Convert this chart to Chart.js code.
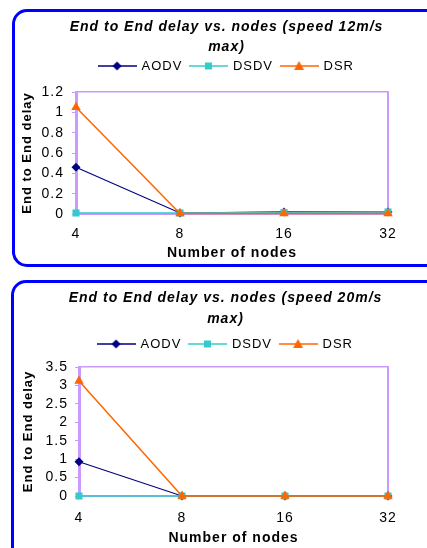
<!DOCTYPE html>
<html>
<head>
<meta charset="utf-8">
<script src="https://cdn.jsdelivr.net/npm/chart.js@4"></script>
<style>
  body { margin: 0; background: #fff; width: 427px; height: 548px; overflow: hidden; position: relative; }
  .box { position: absolute; border: 3px solid #0000ff; border-radius: 15px; box-sizing: border-box; }
  canvas { position: absolute; }
</style>
</head>
<body>
<div class="box" style="left:12px; top:9px; width:440px; height:258px;"></div>
<div class="box" style="left:11px; top:280px; width:440px; height:300px;"></div>
<canvas id="c12" width="427" height="258" style="left:13px; top:10px;"></canvas>
<canvas id="c20" width="427" height="278" style="left:12px; top:270px;"></canvas>
<script>
const nodes = ['4', '8', '16', '32'];

const aodv12 = [0.46, 0.01, 0.02, 0.02];
const dsdv12 = [0.01, 0.01, 0.015, 0.02];
const dsr12 = [1.05, 0.005, 0.005, 0.005];
const yTicks12 = ['0', '0.2', '0.4', '0.6', '0.8', '1', '1.2'];

const aodv20 = [0.93, 0, 0, 0];
const dsdv20 = [0, 0, 0, 0];
const dsr20 = [3.12, 0, 0, 0];
const yTicks20 = ['0', '0.5', '1', '1.5', '2', '2.5', '3', '3.5'];

const purple = '#cc99ff';
const font = 'Liberation Sans, Arial, sans-serif';
Chart.defaults.color = '#000';
Chart.defaults.font.family = font;

const spacing = {
    id: 'spacing',
    beforeLayout(c) { c.ctx.letterSpacing = '1px'; },
    beforeDraw(c) { c.ctx.letterSpacing = '1px'; }
};

// little line + marker picture for the legend
function legendIcon(color, style) {
    const cv = document.createElement('canvas');
    cv.width = 39; cv.height = 12;
    const g = cv.getContext('2d');
    g.strokeStyle = color; g.fillStyle = color; g.lineWidth = 1.5;
    g.beginPath(); g.moveTo(0, 6); g.lineTo(39, 6); g.stroke();
    g.beginPath();
    if (style === 'rectRot') {
        g.moveTo(19.5, 1.5); g.lineTo(24, 6); g.lineTo(19.5, 10.5); g.lineTo(15, 6);
    } else if (style === 'rect') {
        g.rect(16, 2.5, 7, 7);
    } else {
        g.moveTo(19.5, 1); g.lineTo(24.5, 10); g.lineTo(14.5, 10);
    }
    g.closePath(); g.fill();
    return cv;
}

function series(label, data, color, style, radius, width, order) {
    return {
        label, data, order,
        borderColor: color, backgroundColor: color,
        borderWidth: width,
        pointStyle: style, pointRadius: radius, pointHoverRadius: radius,
        pointBorderWidth: 0,
        tension: 0, clip: false
    };
}

function makeChart(id, title, sets, yMax, yStep, yTicks, lay) {
    new Chart(document.getElementById(id), {
        type: 'line',
        data: { labels: nodes, datasets: sets },
        plugins: [spacing],
        options: {
            responsive: false,
            animation: false,
            events: [],
            layout: { padding: 0 },
            plugins: {
                title: {
                    display: true,
                    text: title,
                    font: { size: 14, weight: 'bold', style: 'italic', lineHeight: lay.titleLH + 'px' },
                    padding: { top: lay.titleTop, bottom: lay.titleBottom }
                },
                legend: {
                    display: true,
                    labels: {
                        font: { size: 13 },
                        padding: 8,
                        usePointStyle: true,
                        pointStyleWidth: 36,
                        generateLabels: (chart) => chart.data.datasets.map((ds, i) => ({
                            text: ds.label,
                            datasetIndex: i,
                            pointStyle: legendIcon(ds.borderColor, ds.pointStyle),
                            fillStyle: ds.borderColor,
                            strokeStyle: ds.borderColor,
                            lineWidth: 0,
                            fontColor: '#000'
                        }))
                    }
                },
                tooltip: { enabled: false }
            },
            scales: {
                x: {
                    type: 'category',
                    offset: false,
                    grid: { display: false, drawTicks: false },
                    border: { display: true, color: purple, width: 2 },
                    ticks: { font: { size: 14 }, padding: lay.xPad, maxRotation: 0 },
                    title: {
                        display: true, text: 'Number of nodes',
                        font: { size: 14, weight: 'bold' },
                        padding: { top: 0, bottom: lay.xTitleBottom }
                    },
                    afterFit: s => { s.height = lay.xHeight; }
                },
                x2: {
                    type: 'category',
                    position: 'top',
                    grid: { display: false, drawTicks: false },
                    border: { display: true, color: purple, width: 1.5 },
                    ticks: { display: false },
                    afterFit: s => { s.height = lay.topGap; }
                },
                y: {
                    min: 0, max: yMax,
                    grid: { drawOnChartArea: false, drawTicks: true, tickLength: 4, color: purple },
                    border: { display: true, color: purple, width: 3 },
                    ticks: {
                        stepSize: yStep,
                        autoSkip: false,
                        maxTicksLimit: 20,
                        font: { size: 14, lineHeight: 1 },
                        padding: lay.yPad,
                        callback: (v, i) => yTicks[i]
                    },
                    title: {
                        display: true, text: 'End to End delay',
                        font: { size: 13, weight: 'bold' },
                        padding: { top: lay.yTitleTop, bottom: 0 }
                    },
                    afterFit: s => { s.width = lay.yWidth; }
                },
                y2: {
                    position: 'right',
                    min: 0, max: yMax,
                    grid: { display: false, drawTicks: false },
                    border: { display: true, color: purple, width: 2 },
                    ticks: { display: false },
                    afterFit: s => { s.width = lay.rightGap; }
                }
            }
        }
    });
}

makeChart('c12', ['End to End delay vs. nodes (speed 12m/s', 'max)'], [
    series('AODV', aodv12, '#000080', 'rectRot', 4.5, 1.2, 2),
    series('DSDV', dsdv12, '#33cccc', 'rect', 5, 1.5, 1),
    series('DSR', dsr12, '#ff6600', 'triangle', 5.5, 1.5, 0)
], 1.2, 0.2, yTicks12, {
    titleLH: 20, titleTop: 7, titleBottom: -5.5, topGap: 9.5,
    xHeight: 54, xPad: 12, xTitleBottom: 6.6,
    yWidth: 63, yPad: 8, yTitleTop: 6.2, rightGap: 52
});

makeChart('c20', ['End to End delay vs. nodes (speed 20m/s', 'max)'], [
    series('AODV', aodv20, '#000080', 'rectRot', 4.5, 1.2, 2),
    series('DSDV', dsdv20, '#33cccc', 'rect', 5, 1.5, 1),
    series('DSR', dsr20, '#ff6600', 'triangle', 5.5, 1.5, 0)
], 3.5, 0.5, yTicks20, {
    titleLH: 21, titleTop: 17.5, titleBottom: 0, topGap: 6.5,
    xHeight: 52, xPad: 14, xTitleBottom: 1.6,
    yWidth: 67, yPad: 7, yTitleTop: 8.2, rightGap: 51
});
</script>
</body>
</html>
